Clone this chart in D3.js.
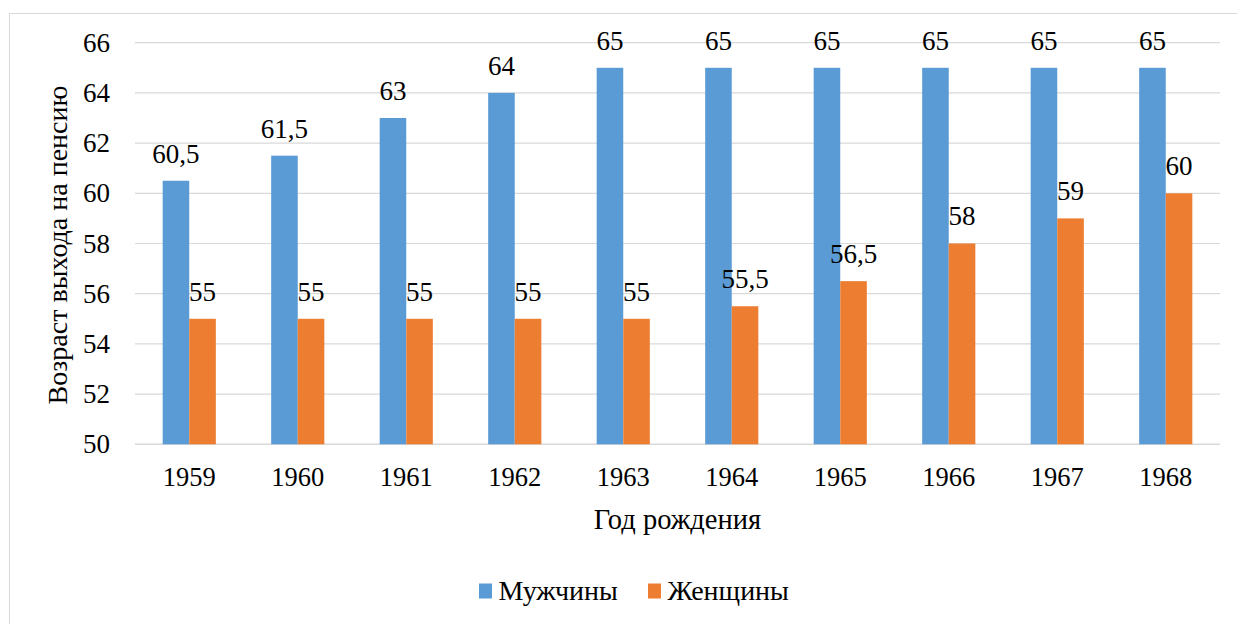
<!DOCTYPE html>
<html>
<head>
<meta charset="utf-8">
<script src="https://cdn.jsdelivr.net/npm/d3@7"></script>
<style>
  body { margin: 0; background: #fff; }
  svg text { font-family: 'Liberation Serif', 'Times New Roman', serif; fill: #000; }
</style>
</head>
<body>
<div id="chart"></div>
<script>
// chart data
var years = ["1959", "1960", "1961", "1962", "1963", "1964", "1965", "1966", "1967", "1968"];
var men = [60.5, 61.5, 63, 64, 65, 65, 65, 65, 65, 65];
var women = [55, 55, 55, 55, 55, 55.5, 56.5, 58, 59, 60];
var seriesNames = ["Мужчины", "Женщины"];
var seriesColors = ["#5b9bd5", "#ed7d31"];
var yTicks = [50, 52, 54, 56, 58, 60, 62, 64, 66];

var W = 1237, H = 624;
var margin = { top: 42.7, right: 17, bottom: 179.7, left: 135 };
var width = W - margin.left - margin.right;
var height = H - margin.top - margin.bottom;

var svg = d3.select("#chart").append("svg")
  .attr("width", W)
  .attr("height", H);

// outer frame
svg.append("rect")
  .attr("x", 9.5).attr("y", 13.5)
  .attr("width", W - 9).attr("height", H)
  .attr("fill", "none")
  .attr("stroke", "#d9d9d9");

var g = svg.append("g")
  .attr("transform", "translate(" + margin.left + "," + margin.top + ")");

var x = d3.scaleBand().domain(years).range([0, width]).paddingInner(0.51).paddingOuter(0.255);
var x1 = d3.scaleBand().domain([0, 1]).range([0, x.bandwidth()]);
var y = d3.scaleLinear().domain([50, 66]).range([height, 0]);

// gridlines
g.selectAll("line.grid")
  .data(yTicks)
  .enter().append("line")
  .attr("class", "grid")
  .attr("x1", 0).attr("x2", width)
  .attr("y1", function (d) { return y(d); })
  .attr("y2", function (d) { return y(d); })
  .attr("stroke", "#d9d9d9")
  .attr("stroke-width", function (d) { return d === 50 ? 1.5 : 1.2; });

// y tick labels
var yAxis = g.append("g").call(d3.axisLeft(y).tickValues(yTicks).tickSize(0).tickPadding(25).tickFormat(d3.format("d")));
yAxis.select(".domain").remove();
yAxis.attr("font-family", null).attr("font-size", null);
yAxis.selectAll("text").attr("font-size", 27).attr("fill", "#000");

// x tick labels
var xAxis = g.append("g").attr("transform", "translate(0," + height + ")")
  .call(d3.axisBottom(x).tickSize(0).tickPadding(23));
xAxis.select(".domain").remove();
xAxis.attr("font-family", null).attr("font-size", null);
xAxis.selectAll("text").attr("font-size", 26.5).attr("fill", "#000");

var series = [men, women];

series.forEach(function (vals, s) {
  g.selectAll("rect.s" + s)
    .data(vals)
    .enter().append("rect")
    .attr("class", "s" + s)
    .attr("x", function (d, i) { return x(years[i]) + x1(s); })
    .attr("width", x1.bandwidth())
    .attr("y", function (d) { return y(d); })
    .attr("height", function (d) { return height - y(d); })
    .attr("fill", seriesColors[s]);

  g.selectAll("text.l" + s)
    .data(vals)
    .enter().append("text")
    .attr("class", "l" + s)
    .attr("x", function (d, i) { return x(years[i]) + x1(s) + x1.bandwidth() / 2; })
    .attr("y", function (d) { return y(d) - 18; })
    .attr("text-anchor", "middle")
    .attr("font-size", 27)
    .text(function (d) { return String(d).replace(".", ","); });
});

// axis titles
svg.append("text")
  .attr("x", margin.left + width / 2)
  .attr("y", 529)
  .attr("text-anchor", "middle")
  .attr("font-size", 28.5)
  .text("Год рождения");

svg.append("text")
  .attr("transform", "translate(67,245) rotate(-90)")
  .attr("text-anchor", "middle")
  .attr("font-size", 28)
  .text("Возраст выхода на пенсию");

// legend
var legend = svg.append("g");
var legendX = [479, 648];
seriesNames.forEach(function (name, i) {
  legend.append("rect")
    .attr("x", legendX[i]).attr("y", 583.5)
    .attr("width", 13).attr("height", 15)
    .attr("fill", seriesColors[i]);
  legend.append("text")
    .attr("x", legendX[i] + 19.5).attr("y", 600)
    .attr("font-size", 28)
    .text(name);
});
</script>
</body>
</html>
